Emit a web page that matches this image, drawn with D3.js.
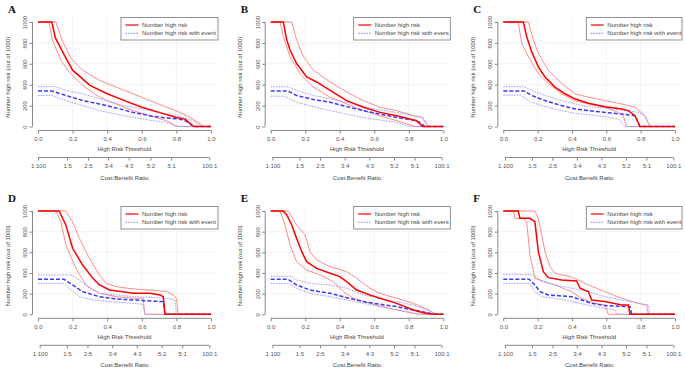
<!DOCTYPE html>
<html lang="en">
<head>
    <meta charset="UTF-8">
    <title>Clinical impact curves</title>
    <script src="https://d3js.org/d3.v7.min.js"></script>
    <style>
        body { margin: 0; background: #fff; }
        text { font-family: "Liberation Sans", Arial, sans-serif; fill: #444; }
    </style>
</head>
<body>
<script>
    const width = 685;
    const height = 373;

    // [threshold, number high risk out of 1000]
    const aRisk   = [[0,1000],[0.08,1000],[0.1,850],[0.15,690],[0.2,539],[0.3,394],[0.4,313],[0.5,248],[0.6,184],[0.7,135],[0.8,87],[0.85,71],[0.9,0],[1,0]];
    const aRiskHi = [[0,1000],[0.103,1000],[0.142,813],[0.19,652],[0.258,539],[0.355,442],[0.452,377],[0.55,313],[0.647,248],[0.744,184],[0.82,135],[0.88,87],[0.94,23],[0.957,0],[1,0]];
    const aRiskLo = [[0,1000],[0.064,1000],[0.083,829],[0.132,635],[0.18,523],[0.258,394],[0.355,281],[0.452,216],[0.55,152],[0.647,103],[0.744,55],[0.8,6],[0.82,0],[1,0]];
    const aEvent   = [[0,339],[0.08,339],[0.161,297],[0.258,248],[0.355,216],[0.452,177],[0.55,135],[0.647,103],[0.744,81],[0.82,71],[0.86,48],[0.9,0],[1,0]];
    const aEventHi = [[0,381],[0.1,381],[0.161,345],[0.258,313],[0.355,265],[0.452,216],[0.55,184],[0.647,152],[0.744,119],[0.84,87],[0.9,55],[0.94,6],[0.957,0],[1,0]];
    const aEventLo = [[0,297],[0.08,297],[0.161,248],[0.258,200],[0.355,152],[0.452,119],[0.55,87],[0.647,61],[0.744,39],[0.8,0],[1,0]];

    const bRisk   = [[0,1000],[0.073,1000],[0.093,829],[0.112,732],[0.15,603],[0.208,474],[0.266,426],[0.344,345],[0.44,248],[0.537,184],[0.633,135],[0.73,103],[0.807,71],[0.845,55],[0.88,0],[1,0]];
    const bRiskHi = [[0,1000],[0.122,1000],[0.15,829],[0.19,668],[0.247,539],[0.344,426],[0.44,329],[0.537,248],[0.633,184],[0.73,152],[0.826,103],[0.875,87],[0.913,0],[1,0]];
    const bRiskLo = [[0,1000],[0.054,1000],[0.073,861],[0.112,668],[0.17,506],[0.247,377],[0.344,281],[0.44,216],[0.537,152],[0.633,103],[0.73,55],[0.807,16],[0.836,0],[1,0]];
    const bEvent   = [[0,340],[0.1,340],[0.15,297],[0.247,258],[0.344,232],[0.44,190],[0.537,152],[0.633,119],[0.73,87],[0.826,61],[0.865,39],[0.894,0],[1,0]];
    const bEventHi = [[0,380],[0.1,380],[0.15,345],[0.247,297],[0.344,265],[0.44,232],[0.537,190],[0.633,158],[0.73,135],[0.826,103],[0.884,87],[0.913,0],[1,0]];
    const bEventLo = [[0,290],[0.08,290],[0.15,232],[0.247,190],[0.344,152],[0.44,119],[0.537,87],[0.633,61],[0.73,39],[0.807,0],[1,0]];

    const cRisk   = [[0,1000],[0.117,1000],[0.136,861],[0.165,716],[0.204,571],[0.243,474],[0.301,377],[0.359,313],[0.417,265],[0.495,223],[0.592,190],[0.689,168],[0.728,152],[0.767,103],[0.796,0],[1,0]];
    const cRiskHi = [[0,1000],[0.146,1000],[0.175,829],[0.204,700],[0.262,539],[0.34,410],[0.417,313],[0.495,281],[0.592,248],[0.689,216],[0.767,184],[0.825,103],[0.854,0],[1,0]];
    const cRiskLo = [[0,1000],[0.087,1000],[0.107,797],[0.146,668],[0.204,506],[0.262,410],[0.34,313],[0.417,248],[0.495,216],[0.592,184],[0.67,135],[0.699,103],[0.718,0],[1,0]];
    const cEvent   = [[0,340],[0.12,340],[0.165,297],[0.243,248],[0.34,200],[0.417,168],[0.495,152],[0.592,135],[0.689,119],[0.767,103],[0.796,0],[1,0]];
    const cEventHi = [[0,381],[0.12,381],[0.165,345],[0.243,297],[0.34,248],[0.417,216],[0.495,190],[0.592,177],[0.689,158],[0.786,135],[0.825,103],[0.854,0],[1,0]];
    const cEventLo = [[0,300],[0.1,300],[0.165,232],[0.243,190],[0.34,152],[0.417,126],[0.495,113],[0.592,94],[0.67,71],[0.709,0],[1,0]];

    const dRisk   = [[0,1000],[0.122,1000],[0.161,865],[0.2,639],[0.258,477],[0.317,348],[0.355,284],[0.414,235],[0.491,219],[0.55,203],[0.647,203],[0.705,187],[0.724,171],[0.734,0],[1,0]];
    const dRiskHi = [[0,1000],[0.161,1000],[0.2,897],[0.239,735],[0.297,542],[0.355,381],[0.394,300],[0.452,268],[0.55,245],[0.647,235],[0.744,219],[0.783,187],[0.8,155],[0.811,0],[1,0]];
    const dRiskLo = [[0,1000],[0.103,1000],[0.132,897],[0.161,671],[0.219,445],[0.277,284],[0.355,203],[0.452,171],[0.55,155],[0.608,155],[0.617,0],[1,0]];
    const dEvent   = [[0,339],[0.15,339],[0.2,284],[0.258,219],[0.355,171],[0.452,148],[0.55,139],[0.647,129],[0.724,123],[0.734,0],[1,0]];
    const dEventHi = [[0,381],[0.19,381],[0.239,332],[0.297,252],[0.355,203],[0.452,187],[0.55,171],[0.647,165],[0.744,155],[0.792,139],[0.8,0],[1,0]];
    const dEventLo = [[0,300],[0.15,300],[0.18,252],[0.239,171],[0.317,139],[0.414,123],[0.55,106],[0.608,97],[0.617,0],[1,0]];

    const eRisk   = [[0,1000],[0.073,1000],[0.093,961],[0.122,865],[0.15,735],[0.18,606],[0.208,510],[0.266,445],[0.344,397],[0.4,365],[0.44,316],[0.498,235],[0.575,187],[0.633,155],[0.73,106],[0.826,42],[0.884,16],[0.942,0],[1,0]];
    const eRiskHi = [[0,1000],[0.102,1000],[0.15,865],[0.199,768],[0.228,606],[0.266,526],[0.344,461],[0.44,413],[0.498,348],[0.575,252],[0.633,203],[0.73,155],[0.826,106],[0.903,52],[0.961,0],[1,0]];
    const eRiskLo = [[0,1000],[0.054,1000],[0.083,865],[0.112,671],[0.15,510],[0.208,429],[0.286,381],[0.363,316],[0.421,219],[0.479,155],[0.575,106],[0.691,58],[0.826,10],[0.884,0],[1,0]];
    const eEvent   = [[0,339],[0.1,339],[0.15,284],[0.228,235],[0.344,203],[0.44,161],[0.537,123],[0.633,97],[0.73,74],[0.826,42],[0.923,10],[0.961,0],[1,0]];
    const eEventHi = [[0,368],[0.12,368],[0.15,332],[0.228,300],[0.344,284],[0.44,252],[0.537,187],[0.633,155],[0.73,123],[0.826,90],[0.903,42],[0.961,0],[1,0]];
    const eEventLo = [[0,300],[0.1,300],[0.15,252],[0.228,203],[0.344,171],[0.44,139],[0.537,106],[0.633,74],[0.73,42],[0.826,10],[0.865,0],[1,0]];

    const fRisk   = [[0,1000],[0.087,1000],[0.097,929],[0.155,929],[0.184,897],[0.204,606],[0.233,413],[0.262,355],[0.34,332],[0.427,323],[0.447,252],[0.495,219],[0.515,139],[0.592,123],[0.689,90],[0.728,90],[0.738,0],[1,0]];
    const fRiskHi = [[0,1000],[0.184,1000],[0.204,929],[0.243,606],[0.272,461],[0.301,397],[0.398,361],[0.456,316],[0.495,284],[0.592,219],[0.689,155],[0.786,106],[0.835,90],[0.845,0],[1,0]];
    const fRiskLo = [[0,1000],[0.058,1000],[0.068,929],[0.117,929],[0.136,897],[0.155,574],[0.184,348],[0.243,316],[0.301,284],[0.398,219],[0.456,155],[0.534,106],[0.592,90],[0.612,0],[1,0]];
    const fEvent   = [[0,340],[0.15,340],[0.184,284],[0.214,219],[0.262,187],[0.398,171],[0.456,139],[0.515,106],[0.592,84],[0.738,74],[0.748,0],[1,0]];
    const fEventHi = [[0,387],[0.17,387],[0.223,316],[0.301,284],[0.398,252],[0.495,219],[0.592,171],[0.689,139],[0.786,106],[0.845,90],[0.854,0],[1,0]];
    const fEventLo = [[0,300],[0.15,300],[0.184,219],[0.223,171],[0.301,155],[0.398,123],[0.495,90],[0.592,58],[0.65,42],[0.66,0],[1,0]];

    const panelIds = ["A", "B", "C", "D", "E", "F"];
    const thresholdTicks = [0, 0.2, 0.4, 0.6, 0.8, 1.0];
    const countTicks = [0, 200, 400, 600, 800, 1000];
    const costLabels = ["1:100", "1:5", "2:5", "3:4", "4:3", "5:2", "5:1", "100:1"];
    const costTicks  = [1/101, 1/6, 2/7, 3/7, 4/7, 5/7, 5/6, 100/101];
    const costTicksA = [0, 0.168, 0.289, 0.405, 0.524, 0.65, 0.77, 0.99];
    const legendLabels = ["Number high risk", "Number high risk with event"];

    const panelData = {
        A: [aRisk, aRiskHi, aRiskLo, aEvent, aEventHi, aEventLo],
        B: [bRisk, bRiskHi, bRiskLo, bEvent, bEventHi, bEventLo],
        C: [cRisk, cRiskHi, cRiskLo, cEvent, cEventHi, cEventLo],
        D: [dRisk, dRiskHi, dRiskLo, dEvent, dEventHi, dEventLo],
        E: [eRisk, eRiskHi, eRiskLo, eEvent, eEventHi, eEventLo],
        F: [fRisk, fRiskHi, fRiskLo, fEvent, fEventHi, fEventLo]
    };

    // pixel frame of each panel's plotting area
    const colLeft  = [38, 270.7, 503.3];
    const colRight = [211, 443.3, 675];
    const rowTop    = [22, 211];
    const rowBottom = [126.5, 314.3];

    const axisColor = "#888";
    const styles = [
        {stroke: "#ff0000", width: 1.5, dash: null, opacity: 1},     // main risk
        {stroke: "#ff8080", width: 1,   dash: null, opacity: 0.9},   // ci
        {stroke: "#ff8080", width: 1,   dash: null, opacity: 0.9},
        {stroke: "#3a3aff", width: 1.5, dash: "4,2", opacity: 1},    // main event
        {stroke: "#9a9aff", width: 1,   dash: "1.5,1.2", opacity: 1},
        {stroke: "#9a9aff", width: 1,   dash: "1.5,1.2", opacity: 1}
    ];

    const svg = d3.select("body").append("svg")
            .attr("width", width).attr("height", height);

    panelIds.forEach(function(id, i) {
        const col = i % 3, row = Math.floor(i / 3);
        const x = d3.scaleLinear().domain([0, 1]).range([colLeft[col], colRight[col]]);
        const y = d3.scaleLinear().domain([0, 1000]).range([rowBottom[row], rowTop[row]]);
        const g = svg.append("g").attr("class", "panel");

        // faint grid
        g.append("g").selectAll("line.vg")
            .data(thresholdTicks.slice(1, -1)).enter().append("line")
            .attr("x1", d => x(d)).attr("x2", d => x(d))
            .attr("y1", y(1000) - 4).attr("y2", y(0) + 4)
            .style("stroke", "#f0f0f0").style("stroke-width", 0.8);
        g.append("g").selectAll("line.hg")
            .data(countTicks.slice(1, -1)).enter().append("line")
            .attr("x1", x(0) - 7).attr("x2", x(1) + 7)
            .attr("y1", d => y(d)).attr("y2", d => y(d))
            .style("stroke", "#f0f0f0").style("stroke-width", 0.8);

        // y axis
        const yAxis = g.append("g")
            .attr("transform", "translate(" + (x(0) - 5.5) + ",0)")
            .call(d3.axisLeft(y).tickValues(countTicks).tickSize(3).tickFormat(d3.format("d")));
        yAxis.select(".domain").attr("d", "M0," + y(0) + "V" + y(1000));
        yAxis.selectAll("line, path").style("stroke", axisColor);
        yAxis.selectAll("text")
            .attr("x", 0).attr("y", 0).attr("dy", null)
            .attr("text-anchor", "middle")
            .attr("transform", "translate(-5.5,0) rotate(-90)")
            .style("font-size", "6px").style("fill", "#555").style("font-family", "Liberation Sans, Arial, sans-serif");

        g.append("text")
            .attr("transform", "translate(" + (x(0) - 28.5) + "," + ((y(0) + y(1000)) / 2 + 3) + ") rotate(-90)")
            .attr("text-anchor", "middle")
            .style("font-size", "6px")
            .text("Number high risk (out of 1000)");

        // threshold axis
        const xAxis = g.append("g")
            .attr("transform", "translate(0," + (y(0) + 4) + ")")
            .call(d3.axisBottom(x).tickValues(thresholdTicks).tickSize(3).tickFormat(d3.format(".1f")));
        xAxis.select(".domain").attr("d", "M" + x(0) + ",0H" + x(1));
        xAxis.selectAll("line, path").style("stroke", axisColor);
        xAxis.selectAll("text").attr("y", 6).style("font-size", "6px").style("fill", "#555")
            .style("font-family", "Liberation Sans, Arial, sans-serif");

        g.append("text")
            .attr("x", (x(0) + x(1)) / 2).attr("y", y(0) + 24.5)
            .attr("text-anchor", "middle").style("font-size", "6px")
            .text("High Risk Threshold");

        // cost:benefit axis
        const cTicks = id === "A" ? costTicksA : costTicks;
        const cAxis = g.append("g")
            .attr("transform", "translate(0," + (y(0) + 31) + ")")
            .call(d3.axisBottom(x).tickValues(cTicks).tickSize(3)
                .tickFormat((d, j) => costLabels[j]));
        cAxis.select(".domain").attr("d", "M" + x(cTicks[0]) + ",0H" + x(cTicks[cTicks.length - 1]));
        cAxis.selectAll("line, path").style("stroke", axisColor);
        cAxis.selectAll("text").attr("y", 6).style("font-size", "6px").style("fill", "#555")
            .style("font-family", "Liberation Sans, Arial, sans-serif");

        g.append("text")
            .attr("x", (x(0) + x(1)) / 2).attr("y", y(0) + 53)
            .attr("text-anchor", "middle").style("font-size", "6px")
            .text("Cost:Benefit Ratio");

        // curves, drawn ci first then main lines
        const line = d3.line().x(d => x(d[0])).y(d => y(d[1]));
        const order = [1, 2, 4, 5, 3, 0];
        order.forEach(function(k) {
            const s = styles[k];
            g.append("path")
                .datum(panelData[id][k])
                .attr("d", line)
                .style("fill", "none")
                .style("stroke", s.stroke)
                .style("stroke-width", s.width)
                .style("stroke-opacity", s.opacity)
                .style("stroke-dasharray", s.dash);
        });

        // legend
        const lx = x(0) + 83, ly = y(1000) - 4.5;
        const lw = x(1) + 7 - lx;
        const legend = g.append("g").attr("transform", "translate(" + lx + "," + ly + ")");
        legend.append("rect")
            .attr("width", lw).attr("height", 22.5)
            .style("fill", "#fff").style("stroke", "#777").style("stroke-width", 0.8);
        legendLabels.forEach(function(lbl, j) {
            const s = j === 0 ? styles[0] : styles[4];
            const yy = 7.5 + j * 8.3;
            legend.append("line")
                .attr("x1", 4.5).attr("x2", 17.5).attr("y1", yy).attr("y2", yy)
                .style("stroke", s.stroke).style("stroke-width", 1.2)
                .style("stroke-dasharray", s.dash);
            legend.append("text")
                .attr("x", 21).attr("y", yy + 2)
                .style("font-size", "6px")
                .text(lbl);
        });

        // panel letter
        g.append("text")
            .attr("x", x(0) - 30).attr("y", y(1000) - 9.5)
            .style("font-family", "Liberation Serif, Times New Roman, serif")
            .style("font-weight", "bold").style("font-size", "11px").style("fill", "#111")
            .text(id);
    });
</script>
</body>
</html>
